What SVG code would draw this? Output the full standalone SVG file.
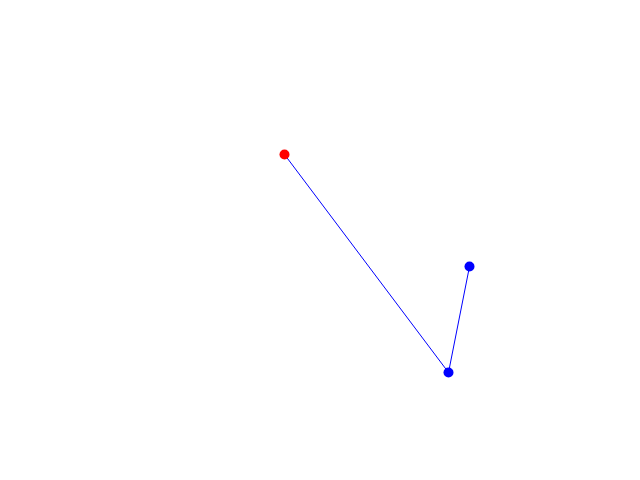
<svg xmlns="http://www.w3.org/2000/svg" width="640" height="480" viewBox="0 0 640 480">
<style>
.edge{stroke:#0000ff;stroke-width:1;fill:none}
.red{fill:#ff0000}
.blue{fill:#0000ff}
</style>
<rect width="640" height="480" fill="#ffffff"/>
<g id="connectors">
<line class="edge" x1="284.5" y1="154.5" x2="448.5" y2="372.5"/>
<line class="edge" x1="448.5" y1="372.5" x2="469.5" y2="266.5"/>
</g>
<g id="node-red"><circle class="red" cx="284.5" cy="154.5" r="5"/></g>
<g id="node-blue1"><circle class="blue" cx="448.5" cy="372.5" r="5"/></g>
<g id="node-blue2"><circle class="blue" cx="469.5" cy="266.5" r="5"/></g>
</svg>
